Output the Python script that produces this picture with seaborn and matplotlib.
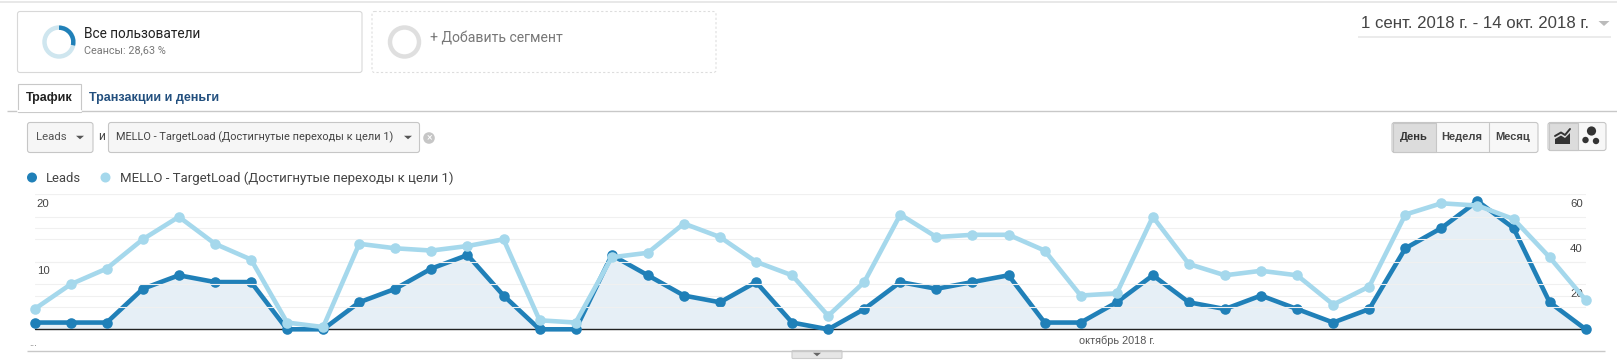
import pandas as pd
import matplotlib
matplotlib.use('Agg')
import matplotlib.pyplot as plt
import seaborn as sns
from matplotlib.patches import Rectangle, FancyBboxPatch, Wedge, Circle, Polygon

# Values
day_index = list(range(44))
leads = [1, 1, 1, 6, 8, 7, 7, 0, 0, 4, 6, 9, 11, 5, 0, 0, 11, 8, 5, 4, 7, 1,
         0, 3, 7, 6, 7, 8, 1, 1, 4, 8, 4, 3, 5, 3, 1, 3, 12, 15, 19, 15, 4, 0]
mello = [9, 20, 27, 40, 50, 38, 31, 3, 1, 38, 36, 35, 37, 40, 4, 3, 32, 34, 47, 41, 30, 24,
         6, 21, 51, 41, 42, 42, 35, 15, 16, 50, 29, 24, 26, 24, 11, 19, 51, 56, 55, 49, 32, 13]
left_ticks = [5, 10, 15, 20]
right_ticks = [10, 20, 30, 40, 50, 60]
left_labels = {10: '10', 20: '20'}
right_labels = {20: '20', 40: '40', 60: '60'}
date_range = '1 сент. 2018 г. - 14 окт. 2018 г.'
series_names = ['Leads', 'MELLO - TargetLoad (Достигнутые переходы к цели 1)']
month_label = 'октябрь 2018 г.'

DARK = '#2080b8'
LIGHT = '#a5d8ec'
FILL = '#e6eff6'
GRID = '#f0f0f0'

sns.set_style('white')
plt.rcParams['font.family'] = ['Roboto', 'DejaVu Sans']

W, H = 1617, 364
fig = plt.figure(figsize=(W / 100, H / 100), dpi=100)

# Page furniture, in pixel coordinates
ui = fig.add_axes([0, 0, 1, 1], zorder=0)
ui.set_xlim(0, W)
ui.set_ylim(H, 0)
ui.axis('off')


def box(x0, y0, x1, y1, fc='white', ec='#d8d8d8', ls='-', rounded=2.5):
    ui.add_patch(FancyBboxPatch((x0, y0), x1 - x0, y1 - y0, boxstyle=f'round,pad=0,rounding_size={rounded}',
                                fc=fc, ec=ec, lw=0.8, ls=ls))


def label(x, y, s, size=9.4, color='#333333', weight='normal', family='Roboto', ha='left'):
    ui.text(x, y + 1, s, fontsize=size, color=color, fontweight=weight, family=family, ha=ha, va='center')


def tri(x, y, color='#555555', w=4, h=3.5):
    ui.add_patch(Polygon([(x - w, y - h / 2), (x + w, y - h / 2), (x, y + h / 2)], fc=color, ec='none'))


def hline(y, x0, x1, color='#dddddd', lw=0.8):
    ui.plot([x0, x1], [y, y], color=color, lw=lw, solid_capstyle='butt')


hline(1.5, 0, W, '#e4e4e4', 1.2)

# Segments
box(17.5, 11.5, 362, 72.5)
box(372, 11.5, 716, 72.5, ec='#dddddd', ls=(0, (2, 2)))
ui.add_patch(Circle((59, 42), 14.5, fc='none', ec='#cfe6ef', lw=3.2))
# y axis is flipped here, so the wedge runs from -90 going clockwise on screen
ui.add_patch(Wedge((59, 42), 16.5, -90, -90 + 360 * 0.2863, width=4.4, fc=DARK, ec='none'))
ui.add_patch(Circle((404.5, 42), 14.5, fc='none', ec='#dfdfdf', lw=3.2))
label(84, 32.5, 'Все пользователи', 9.8, '#222222')
label(84, 49, 'Сеансы: 28,63 %', 7.8, '#777777')
label(430, 37.5, '+ Добавить сегмент', 10.1, '#777777')

# Date range
label(1361, 23, date_range, 12.1, '#444444', family='Liberation Sans')
tri(1604, 23.5, '#bbbbbb', 5.5, 5)
hline(37, 1358, 1611, '#e8e8e8', 1.2)

# Tabs
hline(111, 7, W, '#c8c8c8', 1)
ui.add_patch(Rectangle((17.5, 83.5), 63.5, 28, fc='white', ec='#c8c8c8', lw=0.8, zorder=3))
ui.plot([18, 80.5], [111, 111], color='white', lw=1.5, zorder=4)
ui.text(26, 98.5, 'Трафик', fontsize=9, color='#222222', fontweight='bold', family='Liberation Sans',
        va='center', zorder=5)
label(89, 97.5, 'Транзакции и деньги', 9, '#23507f', 'bold', 'Liberation Sans')

# Metric selectors
box(27.5, 122.5, 93, 152.5, fc='#f6f6f6', ec='#c6c6c6')
label(36, 136.5, 'Leads', 8.2, '#555555')
tri(80, 137.5)
label(98, 135.5, 'и', 8.6, '#444444')
box(108.5, 122.5, 419.5, 152.5, fc='#f6f6f6', ec='#c6c6c6')
label(116, 136.5, series_names[1], 7.9, '#444444')
tri(408, 137.5)
ui.add_patch(Circle((429, 138), 5.8, fc='#c6c6c6', ec='none'))
label(429, 136.8, '×', 7.5, 'white', ha='center')

# Period and chart type buttons
box(1392, 122.5, 1538, 152.5, fc='#f7f7f7', ec='#c6c6c6')
ui.add_patch(Rectangle((1392.5, 123), 43, 29, fc='#dcdcdc', ec='#c6c6c6', lw=0.8))
ui.plot([1488.5, 1488.5], [123, 152], color='#c6c6c6', lw=0.8)
label(1413.5, 136.5, 'День', 8, '#333333', 'bold', 'Liberation Sans', 'center')
label(1461.5, 136.5, 'Неделя', 8, '#444444', 'bold', 'Liberation Sans', 'center')
label(1513, 136.5, 'Месяц', 8, '#444444', 'bold', 'Liberation Sans', 'center')
box(1548, 122.5, 1606, 150.5, fc='#f7f7f7', ec='#c6c6c6')
ui.add_patch(Rectangle((1548.5, 123), 29, 27, fc='#dcdcdc', ec='#c6c6c6', lw=0.8))
ui.plot([1555, 1561, 1565, 1570], [136, 132.5, 135, 129], color='#333333', lw=1.4)
ui.add_patch(Polygon([(1555, 144), (1555, 139), (1561, 135.5), (1565, 138), (1570, 133), (1570, 144)],
                     fc='#333333', ec='none'))
for cx, cy, r in [(1591.5, 131, 4.6), (1585.5, 140, 3.2), (1596, 141, 3.2)]:
    ui.add_patch(Circle((cx, cy), r, fc='#333333', ec='none'))

# Legend
ui.add_patch(Circle((32, 177.5), 5, fc=DARK, ec='none'))
label(45.5, 177, series_names[0], 9.4, '#444444')
ui.add_patch(Circle((105.5, 177.5), 5, fc=LIGHT, ec='none'))
label(120, 177, series_names[1], 9.5, '#444444')

# Bottom strip under the chart
hline(350.5, 27, 1605, '#c8c8c8', 1)
label(29, 342, '...', 7, '#666666')
label(1079, 339.5, month_label, 7.8, '#555555', family='Liberation Sans')
box(792, 350.5, 842, 358.5, fc='#e6e6e6', ec='#cccccc', rounded=1)
tri(817, 354.5, '#666666', 4, 3.5)

# The chart itself: index 0 and 43 sit on the axes edges
x0_px, x1_px = 34.6, 1585.7
y0_px, y1_px = 329.3, 194.3
ax = fig.add_axes([x0_px / W, 1 - y0_px / H, (x1_px - x0_px) / W, (y0_px - y1_px) / H], zorder=2)
ax.patch.set_alpha(0)
df = pd.DataFrame({'day': day_index, 'leads': leads, 'mello': mello})

ax.fill_between(df['day'], df['leads'], color=FILL, lw=0, zorder=1)
sns.lineplot(data=df, x='day', y='leads', ax=ax, color=DARK, linewidth=3.3, marker='o', markersize=7.6,
             markeredgewidth=0, clip_on=False, zorder=4)
ax.set_xlim(0, 43)
ax.set_ylim(0, 20)
ax.set_xticks([])
ax.set_yticks(left_ticks)
ax.grid(axis='y', color=GRID, lw=0.8)
ax.set_axisbelow(True)
ax.set_xlabel('')
ax.set_ylabel('')
sns.despine(ax=ax, left=True, right=True, top=True, bottom=True)
ax.axhline(0, color='#222222', lw=1, zorder=3, clip_on=False)

ax2 = ax.twinx()
ax2.patch.set_alpha(0)
sns.lineplot(data=df, x='day', y='mello', ax=ax2, color=LIGHT, linewidth=3.3, marker='o', markersize=7.6,
             markeredgewidth=0, clip_on=False, zorder=5)
ax2.set_ylim(0, 60)
ax2.set_yticks(right_ticks)
ax2.grid(axis='y', color=GRID, lw=0.8)
ax2.set_axisbelow(True)
ax2.set_xlabel('')
ax2.set_ylabel('')
sns.despine(ax=ax2, left=True, right=True, top=True, bottom=True)

# twinx turns the left ticks back on, so switch them off after it
for a in (ax, ax2):
    a.tick_params(axis='y', length=0, left=False, right=False, labelleft=False, labelright=False)

# Axis numbers sit just under their gridlines, inside the plot
for v, s in left_labels.items():
    ax.annotate(s, (0, v), xytext=(1.5, -3.2), textcoords='offset points', fontsize=8.2, color='#444444',
                family='Liberation Sans', va='top', ha='left', annotation_clip=False)
for v, s in right_labels.items():
    ax2.annotate(s, (43, v), xytext=(-2, -3.2), textcoords='offset points', fontsize=8.2, color='#444444',
                 family='Liberation Sans', va='top', ha='right', annotation_clip=False)

fig.savefig('out.png', dpi=100)
